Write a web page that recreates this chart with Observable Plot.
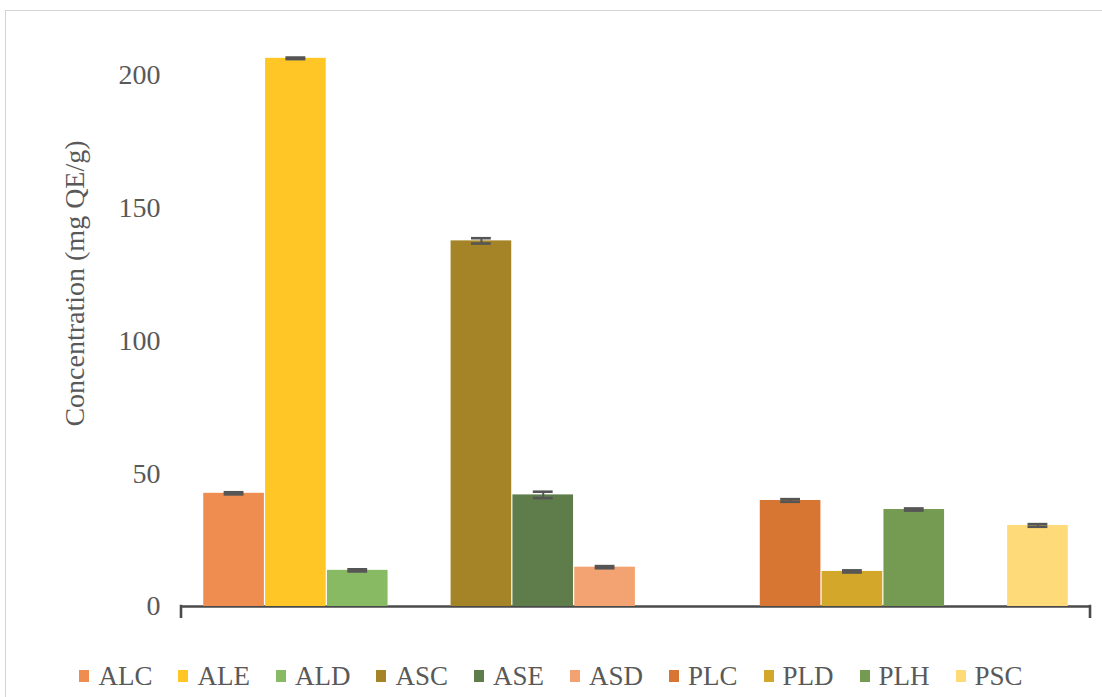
<!DOCTYPE html>
<html>
<head>
<meta charset="utf-8">
<script src="https://cdn.jsdelivr.net/npm/d3@7"></script>
<script src="https://cdn.jsdelivr.net/npm/@observablehq/plot@0.6"></script>
<style>
  html, body { margin: 0; padding: 0; background: #fff; overflow: hidden; }
  #wrap { position: relative; width: 1102px; height: 697px; }
  #border { position: absolute; left: 5px; top: 10px; width: 1120px; height: 720px; border: 1.5px solid #d4d4d4; box-sizing: border-box; }
  #chart { position: absolute; left: 0; top: 0; }
  #legend { position: absolute; left: 0; top: 654px; width: 1102px; height: 44px; display: flex; justify-content: center; align-items: center;
            font-family: "Liberation Serif", serif; font-size: 27px; color: #595959; }
  .item { display: flex; align-items: center; margin: 0 13px; }
  .sw { width: 10px; height: 12px; margin-right: 9px; }
</style>
</head>
<body>
<div id="wrap">
  <div id="border"></div>
  <div id="chart"></div>
  <div id="legend"></div>
</div>
<script>
// Samples (series), in legend order
const samples = ["ALC", "ALE", "ALD", "ASC", "ASE", "ASD", "PLC", "PLD", "PLH", "PSC"];
// Concentration values (mg QE/g)
const values = [42.6, 206.3, 13.6, 137.6, 42.0, 14.8, 39.9, 13.2, 36.5, 30.5];
// Error (± SD)
const errors = [0.4, 0.3, 0.4, 1.0, 1.2, 0.4, 0.5, 0.4, 0.4, 0.5];
// Colours
const colors = ["#EE8D4F", "#FFC626", "#87BA62", "#A58427", "#5F7D4B", "#F2A371", "#D77633", "#D3A72A", "#759B52", "#FFDA78"];
// Slot order along x (empty slots between groups)
const slots = ["ALC", "ALE", "ALD", "_1", "ASC", "ASE", "ASD", "_2", "_3", "PLC", "PLD", "PLH", "_4", "PSC"];
const yTicks = [0, 50, 100, 150, 200];
const yLabel = "Concentration (mg QE/g)";

const data = samples.map((s, i) => ({sample: s, value: values[i], err: errors[i]}));

const endTicks = (index, scales, values, dims) => {
  const g = document.createElementNS("http://www.w3.org/2000/svg", "g");
  const y0 = scales.y(0);
  for (const x of [dims.marginLeft, dims.width - dims.marginRight]) {
    const l = document.createElementNS("http://www.w3.org/2000/svg", "line");
    l.setAttribute("x1", x); l.setAttribute("x2", x);
    l.setAttribute("y1", y0 - 1.2); l.setAttribute("y2", y0 + 12);
    l.setAttribute("stroke", "#4a4a4a"); l.setAttribute("stroke-width", 2.6);
    g.appendChild(l);
  }
  return g;
};

const chart = Plot.plot({
  width: 1102,
  height: 654,
  marginLeft: 181,
  marginRight: 12,
  marginTop: 48,
  marginBottom: 48,
  style: {fontFamily: "'Liberation Serif', serif", background: "transparent"},
  x: {domain: slots, paddingInner: 0, paddingOuter: 0.35, round: false, axis: null},
  y: {domain: [0, 210], ticks: yTicks},
  color: {domain: samples, range: colors},
  marks: [
    Plot.ruleY([0], {stroke: "#4a4a4a", strokeWidth: 2.6}),
    endTicks,
    Plot.barY(data, {x: "sample", y: "value", fill: "sample", insetLeft: 0.6, insetRight: 0.6}),
    Plot.ruleX(data, {x: "sample", y1: d => d.value - d.err, y2: d => d.value + d.err, stroke: "#555", strokeWidth: 2}),
    Plot.tickY(data, {x: "sample", y: d => d.value - d.err, stroke: "#555", strokeWidth: 2.6, insetLeft: 21, insetRight: 21}),
    Plot.tickY(data, {x: "sample", y: d => d.value + d.err, stroke: "#555", strokeWidth: 2.6, insetLeft: 21, insetRight: 21}),
    Plot.axisY({ticks: yTicks, tickSize: 0, tickPadding: 21, fontSize: 28, fill: "#595959", label: null}),
    Plot.text([yLabel], {frameAnchor: "left", textAnchor: "middle", dx: -106, dy: -44, rotate: -90, fontSize: 28, fill: "#595959"})
  ]
});
document.getElementById("chart").appendChild(chart);

const legend = document.getElementById("legend");
samples.forEach((s, i) => {
  const it = document.createElement("div");
  it.className = "item";
  const sw = document.createElement("div");
  sw.className = "sw";
  sw.style.background = colors[i];
  const t = document.createElement("span");
  t.textContent = s;
  it.appendChild(sw); it.appendChild(t);
  legend.appendChild(it);
});
</script>
</body>
</html>
